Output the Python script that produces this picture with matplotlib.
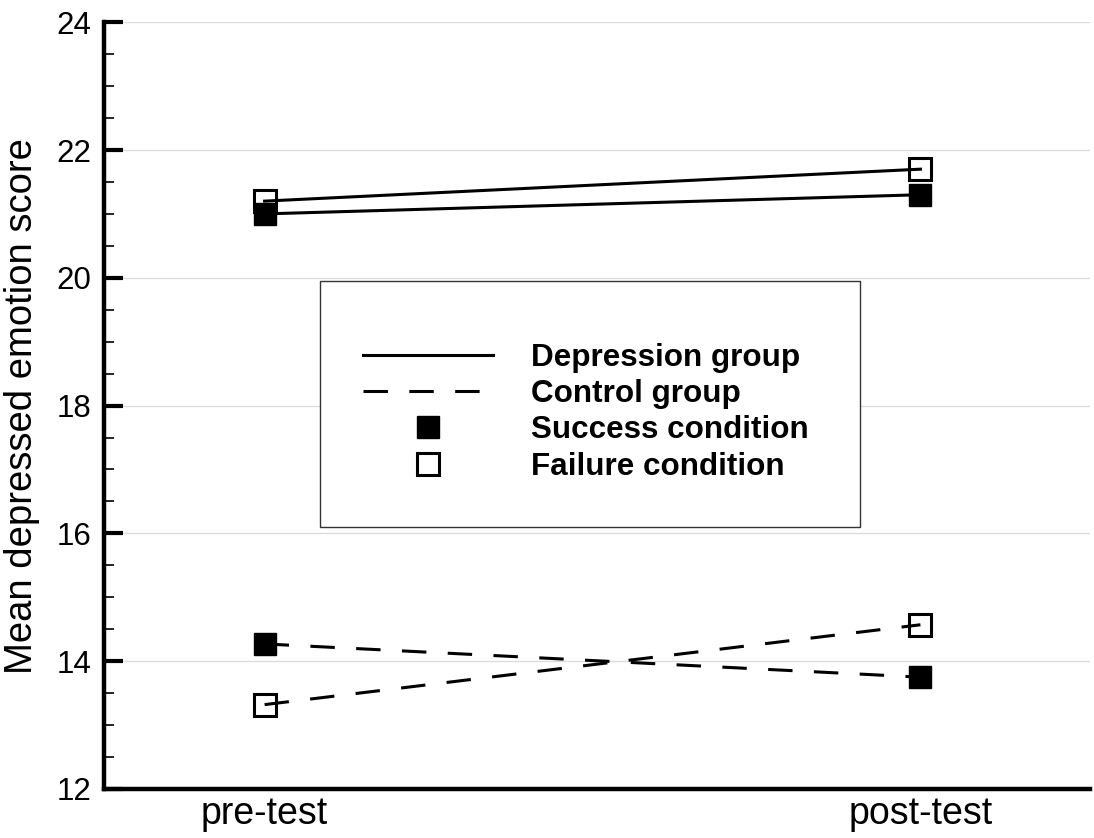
import matplotlib
matplotlib.use("Agg")
import matplotlib.pyplot as plt
from matplotlib.lines import Line2D
from matplotlib.patches import Rectangle

plt.rcParams['font.family'] = ['Liberation Sans', 'DejaVu Sans']

# data
phases = ['pre-test', 'post-test']
dep_success = [21.0, 21.3]
dep_failure = [21.2, 21.7]
ctl_success = [14.27, 13.75]
ctl_failure = [13.32, 14.57]

legend_labels = ['Depression group', 'Control group', 'Success condition', 'Failure condition']

fig = plt.figure(figsize=(10.94, 8.38), dpi=100)
ax = fig.add_axes([0.095, 0.0585, 0.901, 0.915])

x = list(range(len(phases)))
lw = 2.2
dash = (8, 7)
ms = 15.5

ax.plot(x, dep_success, color='k', lw=lw, marker='s', ms=ms, mfc='k', mec='k')
ax.plot(x, dep_failure, color='k', lw=lw, marker='s', ms=ms, mfc='none', mec='k', mew=2.2)
ax.plot(x, ctl_success, color='k', lw=lw, dashes=dash, marker='s', ms=ms, mfc='k', mec='k')
ax.plot(x, ctl_failure, color='k', lw=lw, dashes=dash, marker='s', ms=ms, mfc='none', mec='k', mew=2.2)

ax.set_xlim(-0.245, 1.258)
ax.set_ylim(12, 24)
ax.set_yticks(range(12, 25, 2))
ax.set_yticks([v / 2 for v in range(24, 49)], minor=True)
ax.set_xticks(x)
ax.set_xticklabels(phases, fontsize=27)
ax.tick_params(axis='x', length=0, pad=5)
ax.tick_params(axis='y', which='major', direction='in', length=14, width=3, labelsize=22.5, pad=9)
ax.tick_params(axis='y', which='minor', direction='in', length=7, width=1.2)

ax.yaxis.grid(True, which='major', color='#dcdcdc', lw=1)
ax.set_axisbelow(True)

for s in ['top', 'right']:
    ax.spines[s].set_visible(False)
for s in ['left', 'bottom']:
    ax.spines[s].set_linewidth(3.2)

ax.set_ylabel('Mean depressed emotion score', fontsize=27.5, labelpad=12)

# legend with a separate box
ax.add_patch(Rectangle((0.219, 0.342), 0.548, 0.320, transform=ax.transAxes,
                       fill=True, facecolor='white', edgecolor='#333333', lw=1, zorder=3))
handles = [
    Line2D([], [], color='k', lw=lw),
    Line2D([], [], color='k', lw=lw, dashes=dash),
    Line2D([], [], ls='none', marker='s', ms=ms, color='k'),
    Line2D([], [], ls='none', marker='s', ms=ms, mfc='none', mec='k', mew=2.2),
]
leg = ax.legend(handles, legend_labels, loc='center left', bbox_to_anchor=(0.263, 0.4915),
                frameon=False, borderpad=0, borderaxespad=0, handlelength=4.15,
                handletextpad=1.2, labelspacing=0.2,
                prop={'size': 22.6, 'weight': 'bold'})
leg.set_zorder(4)

fig.savefig('out.png', dpi=100)
